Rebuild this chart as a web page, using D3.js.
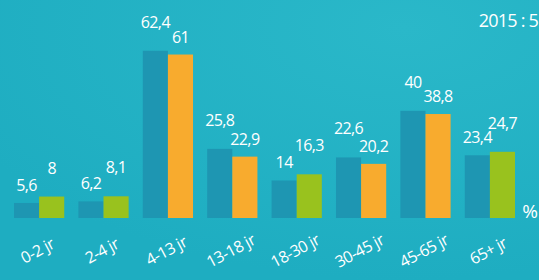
<!DOCTYPE html>
<html>
<head>
<meta charset="utf-8">
<script src="https://cdn.jsdelivr.net/npm/d3@7"></script>
<style>
  html, body { margin: 0; padding: 0; background: #22b1c3; }
  #chart { width: 539px; height: 280px; overflow: hidden; }
  text { font-family: "Open Sans", sans-serif; fill: #fff; }
</style>
</head>
<body>
<div id="chart"></div>
<script>
const categories = ["0-2 jr", "2-4 jr", "4-13 jr", "13-18 jr", "18-30 jr", "30-45 jr", "45-65 jr", "65+ jr"];
const valuesBefore = [5.6, 6.2, 62.4, 25.8, 14, 22.6, 40, 23.4];
const values2015 = [8, 8.1, 61, 22.9, 16.3, 20.2, 38.8, 24.7];

const fmt = v => String(v).replace(".", ",");

function renderChart() {
  const container = d3.select("#chart");
  const width = 539, height = 280;
  const baseY = 218;

  const svg = container.append("svg").attr("width", width).attr("height", height);

  // background with a slight light spot top right
  const defs = svg.append("defs");
  const grad = defs.append("radialGradient").attr("id", "bg")
    .attr("cx", "0.75").attr("cy", "0.1").attr("r", "0.9");
  grad.append("stop").attr("offset", "0").attr("stop-color", "#2ab8c9");
  grad.append("stop").attr("offset", "1").attr("stop-color", "#1eadc1");
  svg.append("rect").attr("width", width).attr("height", height).attr("fill", "url(#bg)");

  const x = d3.scaleBand()
    .domain(categories)
    .range([14, 515])
    .paddingInner(0.22)
    .paddingOuter(0);

  const x1 = d3.scaleBand().domain([0, 1]).range([0, x.bandwidth()]).padding(0);

  const y = d3.scaleLinear().domain([0, 70]).range([baseY, baseY - 70 * 2.68]);

  const rows = categories.map((c, i) => ({
    cat: c,
    vals: [valuesBefore[i], values2015[i]]
  }));

  // second bar: green when it went up, orange when it went down
  const colorFor = (d, k) => {
    if (k === 0) return "#1e96b2";
    return d.vals[1] >= d.vals[0] ? "#99c21e" : "#f8ab2e";
  };

  const groups = svg.append("g").selectAll("g")
    .data(rows)
    .join("g")
    .attr("transform", d => `translate(${x(d.cat)},0)`);

  groups.selectAll("rect")
    .data(d => d.vals.map((v, k) => ({ v, k, row: d })))
    .join("rect")
    .attr("x", d => x1(d.k))
    .attr("y", d => y(d.v))
    .attr("width", x1.bandwidth())
    .attr("height", d => baseY - y(d.v))
    .attr("fill", d => colorFor(d.row, d.k));

  // value labels: the larger of the pair is lifted higher
  groups.selectAll("text.val")
    .data(d => d.vals.map((v, k) => ({ v, k, big: v >= Math.max(...d.vals) && d.vals[0] !== d.vals[1] })))
    .join("text")
    .attr("class", "val")
    .attr("x", d => x1(d.k) + x1.bandwidth() / 2)
    .attr("y", d => y(d.v) - (d.big ? 23 : 12))
    .attr("text-anchor", "middle")
    .attr("font-size", 16)
    .attr("letter-spacing", -0.6)
    .text(d => fmt(d.v));

  // category axis
  const axis = svg.append("g")
    .attr("transform", `translate(0,${baseY})`)
    .call(d3.axisBottom(x).tickSize(0));
  axis.select(".domain").remove();
  axis.selectAll("text")
    .attr("y", 0).attr("dy", null)
    .attr("fill", "#fff")
    .attr("font-size", 16)
    .attr("letter-spacing", -0.5)
    .attr("font-family", "Open Sans, sans-serif")
    .attr("text-anchor", "middle")
    .attr("dominant-baseline", "middle")
    .attr("transform", "translate(-1,34) rotate(-28)");

  svg.append("text")
    .attr("x", 538).attr("y", baseY)
    .attr("text-anchor", "end")
    .attr("font-size", 19)
    .text("%");

  svg.append("text")
    .attr("x", 538).attr("y", 27)
    .attr("text-anchor", "end")
    .attr("font-size", 18)
    .attr("letter-spacing", -0.8)
    .text("2015 : 5");
}

renderChart();
</script>
</body>
</html>
